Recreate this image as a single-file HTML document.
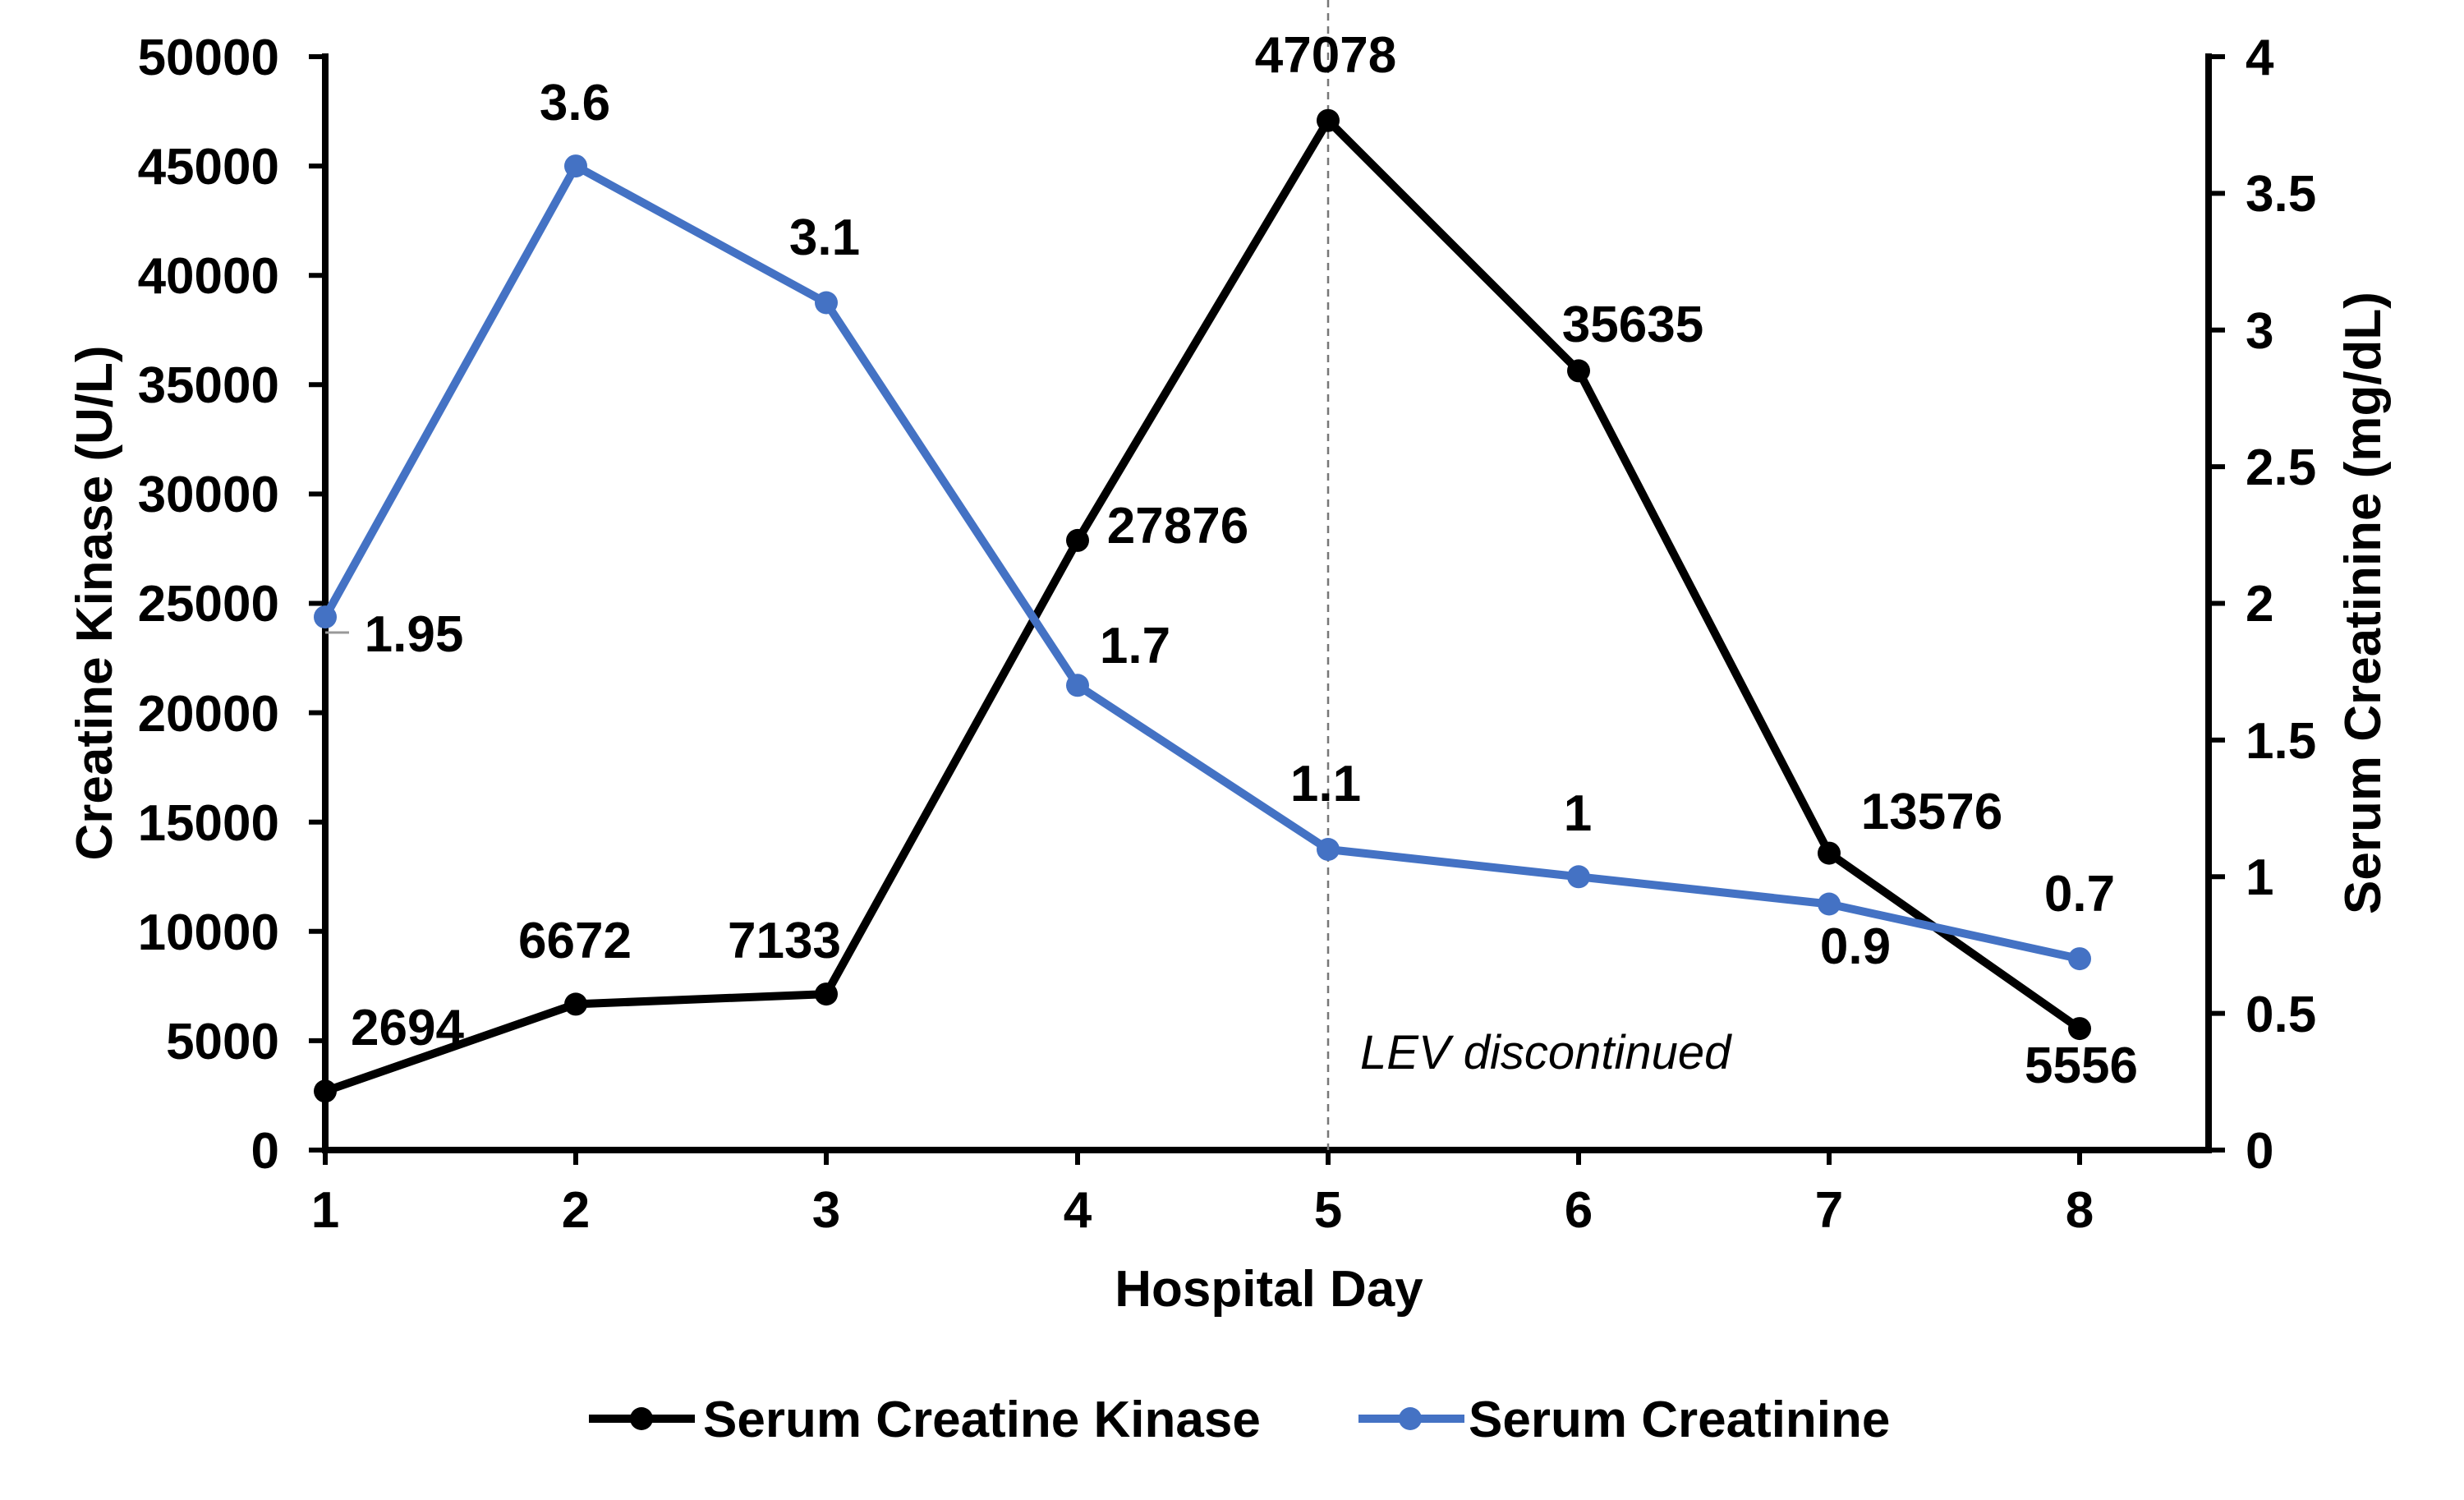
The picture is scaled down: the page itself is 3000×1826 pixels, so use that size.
<!DOCTYPE html>
<html><head><meta charset="utf-8"><style>
html,body{margin:0;padding:0;background:#fff;}
svg{display:block;font-family:"Liberation Sans",Arial,sans-serif;font-weight:bold;}
</style></head><body>
<svg width="3000" height="1826" viewBox="0 0 3000 1826" xmlns="http://www.w3.org/2000/svg">
<g stroke="#000" stroke-width="8" fill="none">
<line x1="396" y1="65" x2="396" y2="1404"/>
<line x1="392" y1="1400" x2="2693" y2="1400"/>
<line x1="2689" y1="65" x2="2689" y2="1404"/>
</g>
<g stroke="#000" stroke-width="6">
<line x1="376" y1="69" x2="396" y2="69"/><line x1="376" y1="202.1" x2="396" y2="202.1"/><line x1="376" y1="335.2" x2="396" y2="335.2"/><line x1="376" y1="468.3" x2="396" y2="468.3"/><line x1="376" y1="601.4" x2="396" y2="601.4"/><line x1="376" y1="734.5" x2="396" y2="734.5"/><line x1="376" y1="867.6" x2="396" y2="867.6"/><line x1="376" y1="1000.7" x2="396" y2="1000.7"/><line x1="376" y1="1133.8" x2="396" y2="1133.8"/><line x1="376" y1="1266.9" x2="396" y2="1266.9"/><line x1="376" y1="1400" x2="396" y2="1400"/>
<line x1="2689" y1="69" x2="2709" y2="69"/><line x1="2689" y1="235.4" x2="2709" y2="235.4"/><line x1="2689" y1="401.8" x2="2709" y2="401.8"/><line x1="2689" y1="568.1" x2="2709" y2="568.1"/><line x1="2689" y1="734.5" x2="2709" y2="734.5"/><line x1="2689" y1="900.9" x2="2709" y2="900.9"/><line x1="2689" y1="1067.3" x2="2709" y2="1067.3"/><line x1="2689" y1="1233.6" x2="2709" y2="1233.6"/><line x1="2689" y1="1400" x2="2709" y2="1400"/>
<line x1="396" y1="1400" x2="396" y2="1418"/><line x1="701" y1="1400" x2="701" y2="1418"/><line x1="1006" y1="1400" x2="1006" y2="1418"/><line x1="1312" y1="1400" x2="1312" y2="1418"/><line x1="1617" y1="1400" x2="1617" y2="1418"/><line x1="1922" y1="1400" x2="1922" y2="1418"/><line x1="2227" y1="1400" x2="2227" y2="1418"/><line x1="2532" y1="1400" x2="2532" y2="1418"/>
</g>
<g font-size="62" text-anchor="end">
<text x="340" y="91">50000</text><text x="340" y="224">45000</text><text x="340" y="357">40000</text><text x="340" y="490">35000</text><text x="340" y="623">30000</text><text x="340" y="756">25000</text><text x="340" y="890">20000</text><text x="340" y="1023">15000</text><text x="340" y="1156">10000</text><text x="340" y="1289">5000</text><text x="340" y="1422">0</text>
</g>
<g font-size="62" text-anchor="start">
<text x="2734" y="91">4</text><text x="2734" y="257">3.5</text><text x="2734" y="424">3</text><text x="2734" y="590">2.5</text><text x="2734" y="756">2</text><text x="2734" y="923">1.5</text><text x="2734" y="1089">1</text><text x="2734" y="1256">0.5</text><text x="2734" y="1422">0</text>
</g>
<g font-size="62" text-anchor="middle">
<text x="396" y="1494">1</text><text x="701" y="1494">2</text><text x="1006" y="1494">3</text><text x="1312" y="1494">4</text><text x="1617" y="1494">5</text><text x="1922" y="1494">6</text><text x="2227" y="1494">7</text><text x="2532" y="1494">8</text>
<text x="1545" y="1590">Hospital Day</text>
<text transform="translate(136,734) rotate(-90)">Creatine Kinase (U/L)</text>
<text transform="translate(2898,734) rotate(-90)">Serum Creatinine (mg/dL)</text>
</g>
<line x1="1617" y1="0" x2="1617" y2="1400" stroke="#777" stroke-width="2.5" stroke-dasharray="9,7"/>
<text x="1656" y="1301" font-size="58" font-weight="normal" font-style="italic">LEV discontinued</text>
<polyline fill="none" stroke="#000" stroke-width="10" stroke-linejoin="round" points="396,1328.3 701,1222.4 1006,1210.1 1312,657.9 1617,146.7 1922,451.4 2227,1038.6 2532,1252.1"/>
<g fill="#000"><circle cx="396" cy="1328.3" r="14"/><circle cx="701" cy="1222.4" r="14"/><circle cx="1006" cy="1210.1" r="14"/><circle cx="1312" cy="657.9" r="14"/><circle cx="1617" cy="146.7" r="14"/><circle cx="1922" cy="451.4" r="14"/><circle cx="2227" cy="1038.6" r="14"/><circle cx="2532" cy="1252.1" r="14"/></g>
<polyline fill="none" stroke="#4472C4" stroke-width="10" stroke-linejoin="round" points="396,751.1 701,202.1 1006,368.5 1312,834.3 1617,1034 1922,1067.3 2227,1100.5 2532,1167.1"/>
<g fill="#4472C4"><circle cx="396" cy="751.1" r="14"/><circle cx="701" cy="202.1" r="14"/><circle cx="1006" cy="368.5" r="14"/><circle cx="1312" cy="834.3" r="14"/><circle cx="1617" cy="1034" r="14"/><circle cx="1922" cy="1067.3" r="14"/><circle cx="2227" cy="1100.5" r="14"/><circle cx="2532" cy="1167.1" r="14"/></g>
<line x1="396" y1="770" x2="425" y2="770" stroke="#999" stroke-width="3"/>
<g font-size="62" text-anchor="middle">
<text x="496" y="1272">2694</text><text x="700" y="1166">6672</text><text x="955" y="1166">7133</text><text x="1434" y="661">27876</text><text x="1614" y="88">47078</text><text x="1988" y="416">35635</text><text x="2352" y="1009">13576</text><text x="2534" y="1318">5556</text>
<text x="700" y="146">3.6</text><text x="1004" y="310">3.1</text><text x="504" y="793">1.95</text><text x="1382" y="807">1.7</text><text x="1614" y="975">1.1</text><text x="1921" y="1011">1</text><text x="2259" y="1173">0.9</text><text x="2532" y="1109">0.7</text>
</g>
<line x1="717" y1="1727" x2="846" y2="1727" stroke="#000" stroke-width="10"/><circle cx="781" cy="1727" r="14" fill="#000"/>
<text x="856" y="1749" font-size="62">Serum Creatine Kinase</text>
<line x1="1654" y1="1727" x2="1783" y2="1727" stroke="#4472C4" stroke-width="10"/><circle cx="1717" cy="1727" r="14" fill="#4472C4"/>
<text x="1788" y="1749" font-size="62">Serum Creatinine</text>
</svg>
</body></html>
